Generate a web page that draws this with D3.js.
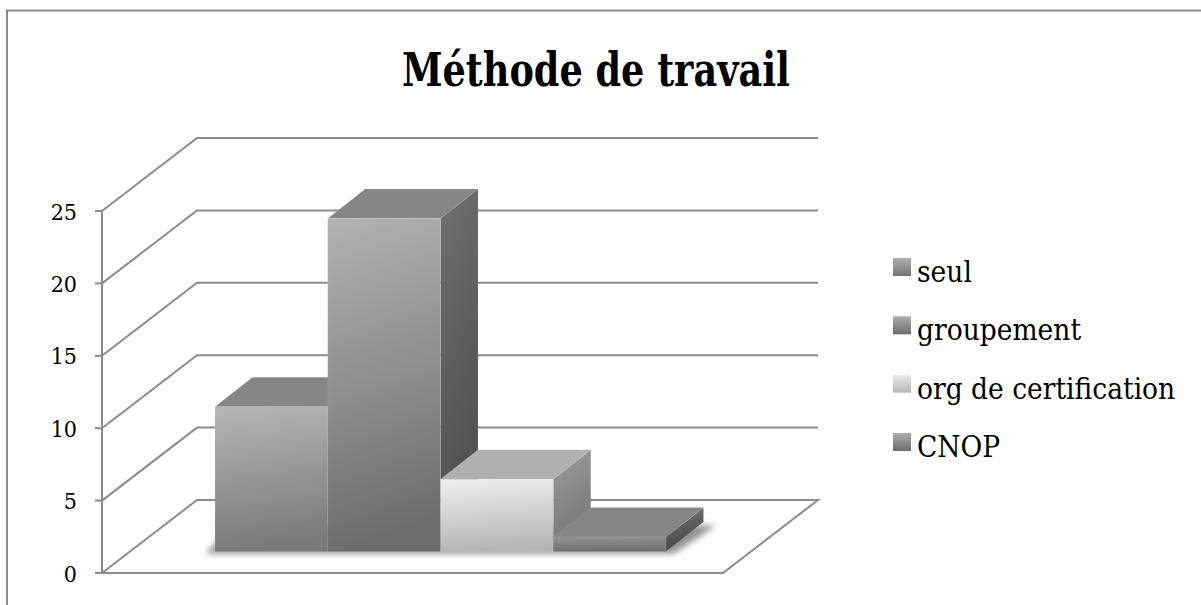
<!DOCTYPE html>
<html><head><meta charset="utf-8">
<script src="https://cdn.jsdelivr.net/npm/d3@7"></script>
<style>html,body{margin:0;padding:0;background:#fff}svg{display:block}</style>
</head><body><div id="c"></div>
<script>
const title = "Méthode de travail";
const seriesNames = ["seul","groupement","org de certification","CNOP"];
const seriesValues = [10,23,5,1];
const tickValues = [0,5,10,15,20,25];
const faceFront = [["#b6b6b6","#7a7a7a"],["#b2b2b2","#6e6e6e"],["#efefef","#b6b6b6"],["#929292","#707070"]];
const faceTop = ["#868686","#868686","#b0b0b0","#868686"];
const faceSide = [["#707070","#4e4e4e"],["#707070","#4e4e4e"],["#9c9c9c","#757575"],["#787878","#444444"]];
const swatch = [["#aeaeae","#747474"],["#aeaeae","#6c6c6c"],["#ececec","#b8b8b8"],["#aeaeae","#6c6c6c"]];
const W=1201,H=605;
const SERIF="'DejaVu Serif Condensed','DejaVu Serif',serif";
const svg=d3.select("#c").append("svg").attr("width",W).attr("height",H);
const defs=svg.append("defs");
const blur=defs.append("filter").attr("id","sh").attr("x","-10%").attr("y","-100%").attr("width","120%").attr("height","300%");
blur.append("feGaussianBlur").attr("stdDeviation",3);
function grad(id,c,x2,y2){const g=defs.append("linearGradient").attr("id",id).attr("x1",0).attr("y1",0).attr("x2",x2).attr("y2",y2);
 g.append("stop").attr("offset",0).attr("stop-color",c[0]);g.append("stop").attr("offset",1).attr("stop-color",c[1]);}
faceFront.forEach((c,i)=>grad("f"+i,c,0.12,1));
faceSide.forEach((c,i)=>grad("s"+i,c,0.25,1));
swatch.forEach((c,i)=>grad("l"+i,c,0,1));

const line="#8c8c8c";
svg.append("path").attr("d",`M7,${H} V10.5 H${W}`).attr("fill","none").attr("stroke",line).attr("stroke-width",2);

const y=d3.scaleLinear().domain([0,25]).range([573,211]);
const floorFrontX=[102,723], wall={dx:95,dy:-73};
const x=d3.scaleBand().domain(seriesNames).range([215,666]).padding(0);
const barBase=551.6, barDepth={dx:37.5,dy:-29.5};
const g=svg.append("g");
const gl=g.append("g").attr("fill","none").attr("stroke",line).attr("stroke-width",2);
tickValues.forEach(v=>{
  const yy=y(v);
  if(v===0){
    gl.append("path").attr("d",`M${floorFrontX[0]},${yy} L${floorFrontX[0]+wall.dx},${yy+wall.dy} H${floorFrontX[1]+wall.dx} L${floorFrontX[1]},${yy} H${floorFrontX[0]}`);
  } else {
    gl.append("path").attr("d",`M${floorFrontX[0]},${yy} L${floorFrontX[0]+wall.dx},${yy+wall.dy} H${floorFrontX[1]+wall.dx}`);
  }
  gl.append("path").attr("d",`M${floorFrontX[0]-7},${yy} H${floorFrontX[0]}`);
});
gl.append("path").attr("d",`M${floorFrontX[0]},${y(0)} V${y(25)}`);
g.append("g").selectAll("text").data(tickValues).join("text")
 .attr("x",77).attr("y",d=>y(d)+8.5).attr("text-anchor","end")
 .attr("font-family",SERIF).attr("font-size",23).attr("fill","#000").text(d=>d);
const x0=x(seriesNames[0]), x1=x(seriesNames[3])+x.bandwidth();
g.append("path").attr("filter","url(#sh)").attr("fill","#909090")
 .attr("d",`M${x0-10},${barBase+2} L${x0+20},${barBase-26} H${x1+50} L${x1+8},${barBase+2} Z`);
const edge="rgba(255,255,255,0.1)";
const bars=g.append("g").selectAll("g").data(seriesValues).join("g").attr("stroke",edge).attr("stroke-width",0.8);
bars.each(function(v,i){
  const s=d3.select(this), name=seriesNames[i];
  const l=x(name), r=l+x.bandwidth();
  const t=barBase-(y(0)-y(v));
  const {dx,dy}=barDepth;
  s.append("path").attr("fill",`url(#s${i})`).attr("d",`M${r},${t} L${r+dx},${t+dy} V${barBase+dy} L${r},${barBase} Z`);
  s.append("path").attr("fill",faceTop[i]).attr("d",`M${l},${t} L${l+dx},${t+dy} H${r+dx} L${r},${t} Z`);
  s.append("rect").attr("x",l).attr("y",t).attr("width",x.bandwidth()).attr("height",barBase-t).attr("fill",`url(#f${i})`);
});
g.append("text").attr("x",402).attr("y",86)
 .attr("textLength",388).attr("lengthAdjust","spacingAndGlyphs")
 .attr("font-family",SERIF).attr("font-weight","bold").attr("font-size",46).attr("fill","#000").text(title);
const ly=d3.scalePoint().domain(seriesNames).range([273,448]);
const lg=g.append("g").selectAll("g").data(seriesNames).join("g").attr("transform",d=>`translate(893,${ly(d)})`);
lg.append("rect").attr("x",0).attr("y",-15).attr("width",18).attr("height",18).attr("fill",(d,i)=>`url(#l${i})`);
lg.append("text").attr("x",24).attr("y",9).attr("font-family",SERIF).attr("font-size",29.5).attr("fill","#000").text(d=>d);
</script></body></html>
